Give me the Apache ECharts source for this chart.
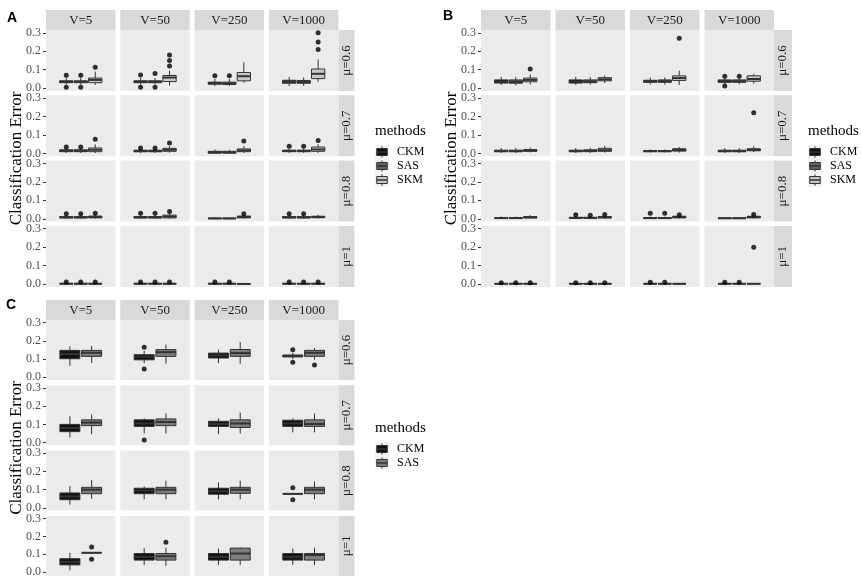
<!DOCTYPE html>
<html>
<head>
<meta charset="utf-8">
<script src="https://cdn.jsdelivr.net/npm/echarts@6/dist/echarts.min.js"></script>
<style>
  html, body { margin: 0; padding: 0; background: #ffffff; }
  #chart { width: 861px; height: 578px; }
</style>
</head>
<body>
<div id="chart"></div>
<script>
// Facet levels
const vLevels = ['V=5', 'V=50', 'V=250', 'V=1000'];
const muLevels = ['μ=0.6', 'μ=0.7', 'μ=0.8', 'μ=1'];
const methodsAB = ['CKM', 'SAS', 'SKM'];
const methodsC = ['CKM', 'SAS'];
const yTickValues = [0, 0.1, 0.2, 0.3];

// Five-number summaries [lower whisker, Q1, median, Q3, upper whisker].
// Facets listed row by row (μ = 0.6, 0.7, 0.8, 1), each row V = 5, 50, 250, 1000.
const boxA_CKM = [
  [0.02, 0.03, 0.035, 0.04, 0.055], [0.02, 0.03, 0.035, 0.04, 0.055], [0.012, 0.022, 0.027, 0.033, 0.05], [0.012, 0.027, 0.034, 0.043, 0.06],
  [0.003, 0.01, 0.015, 0.02, 0.028], [0.003, 0.01, 0.013, 0.018, 0.025], [0, 0.002, 0.007, 0.012, 0.022], [0.003, 0.01, 0.014, 0.018, 0.026],
  [0.001, 0.005, 0.008, 0.012, 0.02], [0.001, 0.005, 0.008, 0.012, 0.02], [0, 0.001, 0.002, 0.004, 0.008], [0.001, 0.005, 0.008, 0.012, 0.02],
  [0, 0.001, 0.002, 0.004, 0.006], [0, 0.001, 0.002, 0.004, 0.006], [0, 0.001, 0.002, 0.004, 0.006], [0, 0.001, 0.002, 0.004, 0.006]
];
const boxA_SAS = [
  [0.02, 0.03, 0.035, 0.04, 0.055], [0.02, 0.03, 0.035, 0.04, 0.055], [0.012, 0.02, 0.025, 0.033, 0.05], [0.012, 0.027, 0.033, 0.042, 0.058],
  [0.003, 0.01, 0.015, 0.02, 0.028], [0.003, 0.01, 0.013, 0.018, 0.025], [0, 0.002, 0.007, 0.012, 0.02], [0.003, 0.01, 0.014, 0.018, 0.026],
  [0.001, 0.005, 0.008, 0.012, 0.02], [0.001, 0.005, 0.008, 0.012, 0.02], [0, 0.001, 0.002, 0.004, 0.008], [0.001, 0.005, 0.008, 0.012, 0.02],
  [0, 0.001, 0.002, 0.004, 0.006], [0, 0.001, 0.002, 0.004, 0.006], [0, 0.001, 0.002, 0.004, 0.006], [0, 0.001, 0.002, 0.004, 0.006]
];
const boxA_SKM = [
  [0.018, 0.03, 0.045, 0.055, 0.09], [0.015, 0.036, 0.058, 0.069, 0.095], [0.03, 0.04, 0.065, 0.085, 0.14], [0.035, 0.052, 0.078, 0.104, 0.155],
  [0.003, 0.01, 0.02, 0.03, 0.05], [0.005, 0.012, 0.02, 0.028, 0.04], [0.003, 0.01, 0.017, 0.025, 0.04], [0.003, 0.012, 0.022, 0.035, 0.05],
  [0.001, 0.005, 0.01, 0.015, 0.025], [0.001, 0.005, 0.012, 0.02, 0.03], [0.001, 0.005, 0.01, 0.015, 0.022], [0.002, 0.006, 0.01, 0.014, 0.022],
  [0, 0.001, 0.002, 0.004, 0.006], [0, 0.001, 0.002, 0.004, 0.006], [0, 0, 0.001, 0.002, 0.003], [0, 0.001, 0.002, 0.004, 0.006]
];
const outA_CKM = [[0.07, 0.005], [0.072, 0.005], [0.068], [], [0.035], [0.03], [], [0.04], [0.028], [0.03], [], [0.028], [0.012], [0.012], [0.012], [0.012]];
const outA_SAS = [[0.07, 0.005], [0.08, 0.005], [0.068], [], [0.035], [0.03], [], [0.04], [0.028], [0.03], [], [0.028], [0.012], [0.012], [0.012], [0.012]];
const outA_SKM = [[0.113], [0.18, 0.15, 0.12], [], [0.3, 0.25, 0.21], [0.077], [0.057], [0.068], [0.07], [0.03], [0.04], [0.028], [], [0.012], [0.012], [], [0.012]];

const boxB_CKM = [
  [0.018, 0.028, 0.036, 0.045, 0.062], [0.018, 0.028, 0.036, 0.045, 0.062], [0.02, 0.032, 0.038, 0.043, 0.058], [0.022, 0.032, 0.038, 0.045, 0.055],
  [0.003, 0.01, 0.013, 0.018, 0.03], [0.003, 0.01, 0.013, 0.018, 0.03], [0.006, 0.01, 0.013, 0.016, 0.022], [0.003, 0.01, 0.013, 0.018, 0.03],
  [0, 0.002, 0.004, 0.006, 0.012], [0, 0.003, 0.005, 0.008, 0.014], [0, 0.002, 0.004, 0.007, 0.012], [0, 0.002, 0.003, 0.005, 0.008],
  [0, 0.001, 0.002, 0.003, 0.005], [0, 0.001, 0.002, 0.003, 0.005], [0, 0.001, 0.002, 0.003, 0.005], [0, 0.001, 0.002, 0.003, 0.005]
];
const boxB_SAS = [
  [0.015, 0.027, 0.035, 0.045, 0.06], [0.02, 0.03, 0.036, 0.045, 0.06], [0.02, 0.032, 0.038, 0.045, 0.058], [0.022, 0.032, 0.038, 0.045, 0.055],
  [0.003, 0.01, 0.013, 0.018, 0.03], [0.003, 0.01, 0.014, 0.02, 0.03], [0.006, 0.01, 0.013, 0.016, 0.022], [0.003, 0.01, 0.013, 0.018, 0.03],
  [0, 0.002, 0.004, 0.006, 0.012], [0, 0.003, 0.005, 0.008, 0.014], [0, 0.002, 0.004, 0.007, 0.012], [0, 0.002, 0.003, 0.005, 0.008],
  [0, 0.001, 0.002, 0.003, 0.005], [0, 0.001, 0.002, 0.003, 0.005], [0, 0.001, 0.002, 0.003, 0.005], [0, 0.001, 0.002, 0.003, 0.005]
];
const boxB_SKM = [
  [0.02, 0.035, 0.045, 0.055, 0.075], [0.028, 0.04, 0.048, 0.057, 0.068], [0.018, 0.042, 0.055, 0.067, 0.095], [0.025, 0.038, 0.05, 0.067, 0.078],
  [0.006, 0.012, 0.016, 0.022, 0.032], [0.005, 0.012, 0.018, 0.028, 0.042], [0.005, 0.013, 0.019, 0.026, 0.035], [0.008, 0.015, 0.02, 0.026, 0.04],
  [0.001, 0.005, 0.008, 0.012, 0.02], [0.001, 0.005, 0.008, 0.012, 0.018], [0.002, 0.005, 0.01, 0.014, 0.02], [0.002, 0.005, 0.01, 0.014, 0.02],
  [0, 0.001, 0.002, 0.003, 0.005], [0, 0.001, 0.002, 0.003, 0.005], [0, 0.001, 0.002, 0.003, 0.005], [0, 0.001, 0.002, 0.003, 0.005]
];
const outB_CKM = [[], [], [], [0.065, 0.012], [], [], [], [], [], [0.022], [0.03], [], [0.007], [0.007], [0.01], [0.01]];
const outB_SAS = [[], [], [], [0.065], [], [], [], [], [], [0.02], [0.03], [], [0.007], [0.007], [0.01], [0.01]];
const outB_SKM = [[0.104], [], [0.27], [], [], [], [], [0.22], [], [0.024], [0.022], [0.024], [0.007], [0.007], [], [0.2]];

const boxC_CKM = [
  [0.063, 0.102, 0.128, 0.148, 0.17], [0.078, 0.096, 0.113, 0.124, 0.145], [0.078, 0.106, 0.12, 0.133, 0.152], [0.1, 0.112, 0.118, 0.122, 0.135],
  [0.028, 0.06, 0.08, 0.1, 0.145], [0.05, 0.089, 0.105, 0.125, 0.133], [0.046, 0.089, 0.102, 0.117, 0.133], [0.056, 0.089, 0.105, 0.123, 0.133],
  [0.018, 0.045, 0.063, 0.082, 0.12], [0.047, 0.078, 0.095, 0.108, 0.118], [0.047, 0.075, 0.092, 0.108, 0.14], [0.077, 0.077, 0.077, 0.077, 0.077],
  [0.009, 0.04, 0.057, 0.075, 0.108], [0.045, 0.072, 0.09, 0.108, 0.138], [0.045, 0.072, 0.09, 0.108, 0.135], [0.045, 0.072, 0.09, 0.108, 0.135]
];
const boxC_SAS = [
  [0.078, 0.115, 0.135, 0.148, 0.172], [0.075, 0.115, 0.138, 0.152, 0.18], [0.074, 0.115, 0.133, 0.153, 0.194], [0.096, 0.115, 0.135, 0.148, 0.16],
  [0.046, 0.093, 0.11, 0.125, 0.155], [0.05, 0.093, 0.113, 0.13, 0.16], [0.05, 0.083, 0.105, 0.125, 0.165], [0.056, 0.089, 0.102, 0.125, 0.16],
  [0.05, 0.078, 0.1, 0.113, 0.153], [0.047, 0.078, 0.1, 0.113, 0.15], [0.047, 0.08, 0.1, 0.113, 0.15], [0.047, 0.078, 0.1, 0.113, 0.145],
  [0.108, 0.108, 0.108, 0.108, 0.108], [0.04, 0.072, 0.093, 0.108, 0.14], [0.045, 0.072, 0.108, 0.138, 0.142], [0.045, 0.072, 0.1, 0.108, 0.14]
];
const outC_CKM = [[], [0.165, 0.045], [], [0.152, 0.082], [], [0.014], [], [], [], [], [], [0.11, 0.045], [], [], [], []];
const outC_SAS = [[], [], [], [0.068], [], [], [], [], [], [], [], [], [0.14, 0.072], [0.17], [], []];

// Page layout for the three facet blocks
const SERIF = '"Liberation Serif", "Times New Roman", serif';
const panels = [
  { letter: 'A', methods: methodsAB, boxes: [boxA_CKM, boxA_SAS, boxA_SKM], outs: [outA_CKM, outA_SAS, outA_SKM],
    fills: ['#111111', '#636363', '#c8c8c8'], x0: 46, colPitch: 74.3, colW: 69.5, stripTop: 10, rowTop: 30, rowH: 61, rowPitch: 65.3,
    stripW: 16, titleX: 17, legendX: 375, legendY: 131, letterX: 12, letterY: 18 },
  { letter: 'B', methods: methodsAB, boxes: [boxB_CKM, boxB_SAS, boxB_SKM], outs: [outB_CKM, outB_SAS, outB_SKM],
    fills: ['#111111', '#636363', '#c8c8c8'], x0: 481, colPitch: 74.5, colW: 69.5, stripTop: 10, rowTop: 30, rowH: 61, rowPitch: 65.3,
    stripW: 18, titleX: 452, legendX: 808, legendY: 131, letterX: 448, letterY: 16 },
  { letter: 'C', methods: methodsC, boxes: [boxC_CKM, boxC_SAS], outs: [outC_CKM, outC_SAS],
    fills: ['#111111', '#7d7d7d'], x0: 46, colPitch: 74.3, colW: 69.5, stripTop: 300, rowTop: 320, rowH: 60, rowPitch: 65.3,
    stripW: 16, titleX: 17, legendX: 375, legendY: 428, letterX: 11, letterY: 305 }
];

const OUTLINE = '#333333';

function makeBox(fill, boxW) {
  return function (params, api) {
    const x = api.value(0);
    const lo = api.coord([x, api.value(1)]);
    const q1 = api.coord([x, api.value(2)]);
    const md = api.coord([x, api.value(3)]);
    const q3 = api.coord([x, api.value(4)]);
    const hi = api.coord([x, api.value(5)]);
    const w = api.size([boxW, 0])[0];
    const l = q1[0] - w / 2;
    return {
      type: 'group',
      children: [
        { type: 'line', shape: { x1: hi[0], y1: hi[1], x2: q3[0], y2: q3[1] }, style: { stroke: OUTLINE, lineWidth: 1 } },
        { type: 'line', shape: { x1: q1[0], y1: q1[1], x2: lo[0], y2: lo[1] }, style: { stroke: OUTLINE, lineWidth: 1 } },
        { type: 'rect', shape: { x: l, y: q3[1], width: w, height: Math.max(q1[1] - q3[1], 0) }, style: { fill: fill, stroke: OUTLINE, lineWidth: 1 } },
        { type: 'line', shape: { x1: l, y1: md[1], x2: l + w, y2: md[1] }, style: { stroke: OUTLINE, lineWidth: 2 } }
      ]
    };
  };
}

const grids = [], xAxes = [], yAxes = [], series = [], graphics = [];

function txt(x, y, text, font, opts) {
  return Object.assign({
    type: 'text', x: x, y: y, silent: true,
    style: { text: text, font: font, fill: '#000', align: 'center', verticalAlign: 'middle', textAlign: 'center', textVerticalAlign: 'middle' }
  }, opts || {});
}

panels.forEach(function (p) {
  const n = p.methods.length;
  const slot = 0.75 / n;
  const boxW = slot * 0.92;
  const bottom = p.rowTop + 3 * p.rowPitch + p.rowH;

  graphics.push(txt(p.letterX, p.letterY, p.letter, 'bold 14px "Liberation Sans", Arial, sans-serif'));
  graphics.push(txt(p.titleX, (p.rowTop + bottom) / 2, 'Classification Error', '17px ' + SERIF, { rotation: Math.PI / 2 }));

  vLevels.forEach(function (v, c) {
    const x = p.x0 + c * p.colPitch;
    graphics.push({ type: 'rect', silent: true, z: -10, shape: { x: x, y: p.stripTop, width: p.colW, height: p.rowTop - p.stripTop }, style: { fill: '#D9D9D9' } });
    const t = txt(x + p.colW / 2, (p.stripTop + p.rowTop) / 2 + 0.5, v, '13px ' + SERIF);
    t.style.fill = '#1A1A1A';
    graphics.push(t);
  });

  const stripX = p.x0 + 3 * p.colPitch + p.colW;
  muLevels.forEach(function (mu, r) {
    const y = p.rowTop + r * p.rowPitch;
    graphics.push({ type: 'rect', silent: true, z: -10, shape: { x: stripX, y: y, width: p.stripW, height: p.rowH }, style: { fill: '#D9D9D9' } });
    const t = txt(stripX + p.stripW / 2, y + p.rowH / 2, mu, '13px ' + SERIF, { rotation: Math.PI / 2 });
    t.style.fill = '#1A1A1A';
    graphics.push(t);

    vLevels.forEach(function (v, c) {
      const x = p.x0 + c * p.colPitch;
      graphics.push({ type: 'rect', silent: true, z: -10, shape: { x: x, y: y, width: p.colW, height: p.rowH }, style: { fill: '#EBEBEB' } });
      const pad = p.rowH * 0.015 / 0.33;
      const gi = grids.length;
      grids.push({ left: x, top: y + pad, width: p.colW, height: p.rowH - 2 * pad, show: false });
      xAxes.push({ type: 'value', gridIndex: gi, min: -0.6, max: 0.6, show: false });
      yAxes.push({
        type: 'value', gridIndex: gi, min: 0, max: 0.3, interval: 0.1, position: 'left',
        axisLine: { show: false, onZero: false },
        splitLine: { show: false },
        axisTick: { show: c === 0, length: 3, lineStyle: { color: '#333333', width: 1 } },
        axisLabel: {
          show: c === 0, margin: 5, color: '#4D4D4D', fontFamily: SERIF, fontSize: 12,
          formatter: function (val) { return yTickValues.some(function (t) { return Math.abs(t - val) < 1e-9; }) ? val.toFixed(1) : ''; }
        }
      });
      const fi = r * 4 + c;
      p.methods.forEach(function (m, k) {
        const xc = (k - (n - 1) / 2) * slot;
        const s = p.boxes[k][fi];
        series.push({
          type: 'custom', name: m, xAxisIndex: gi, yAxisIndex: gi, silent: true, z: 2,
          renderItem: makeBox(p.fills[k], boxW),
          encode: { x: 0, y: [1, 2, 3, 4, 5] },
          data: [[xc, s[0], s[1], s[2], s[3], s[4]]]
        });
        const out = p.outs[k][fi];
        if (out.length) {
          series.push({
            type: 'scatter', name: m + ' outliers', xAxisIndex: gi, yAxisIndex: gi, silent: true, z: 3,
            symbol: 'circle', symbolSize: 5, itemStyle: { color: '#000000' },
            data: out.map(function (o) { return [xc, o]; })
          });
        }
      });
    });
  });

  // legend block
  graphics.push(txt(p.legendX, p.legendY, 'methods', '15px ' + SERIF, { style: { text: 'methods', font: '15px ' + SERIF, fill: '#000', align: 'left', textAlign: 'left', verticalAlign: 'middle', textVerticalAlign: 'middle' } }));
  const ks = 14;
  p.methods.forEach(function (m, k) {
    const kx = p.legendX;
    const ky = p.legendY + 14 + k * ks;
    graphics.push({ type: 'rect', silent: true, shape: { x: kx, y: ky, width: ks, height: ks }, style: { fill: '#F2F2F2' } });
    graphics.push({ type: 'line', silent: true, shape: { x1: kx + ks / 2, y1: ky + ks * 0.1, x2: kx + ks / 2, y2: ky + ks * 0.25 }, style: { stroke: OUTLINE, lineWidth: 1 } });
    graphics.push({ type: 'line', silent: true, shape: { x1: kx + ks / 2, y1: ky + ks * 0.75, x2: kx + ks / 2, y2: ky + ks * 0.9 }, style: { stroke: OUTLINE, lineWidth: 1 } });
    graphics.push({ type: 'rect', silent: true, shape: { x: kx + ks * 0.125, y: ky + ks * 0.25, width: ks * 0.75, height: ks * 0.5 }, style: { fill: p.fills[k], stroke: OUTLINE, lineWidth: 1 } });
    graphics.push({ type: 'line', silent: true, shape: { x1: kx + ks * 0.125, y1: ky + ks / 2, x2: kx + ks * 0.875, y2: ky + ks / 2 }, style: { stroke: OUTLINE, lineWidth: 1.5 } });
    graphics.push(txt(kx + ks + 8, ky + ks / 2, m, '12px ' + SERIF, { style: { text: m, font: '12px ' + SERIF, fill: '#000', align: 'left', textAlign: 'left', verticalAlign: 'middle', textVerticalAlign: 'middle' } }));
  });
});

const chart = echarts.init(document.getElementById('chart'), null, { renderer: 'canvas', width: 861, height: 578 });
chart.setOption({
  animation: false,
  backgroundColor: '#ffffff',
  grid: grids,
  xAxis: xAxes,
  yAxis: yAxes,
  series: series,
  graphic: { elements: graphics }
});
</script>
</body>
</html>
